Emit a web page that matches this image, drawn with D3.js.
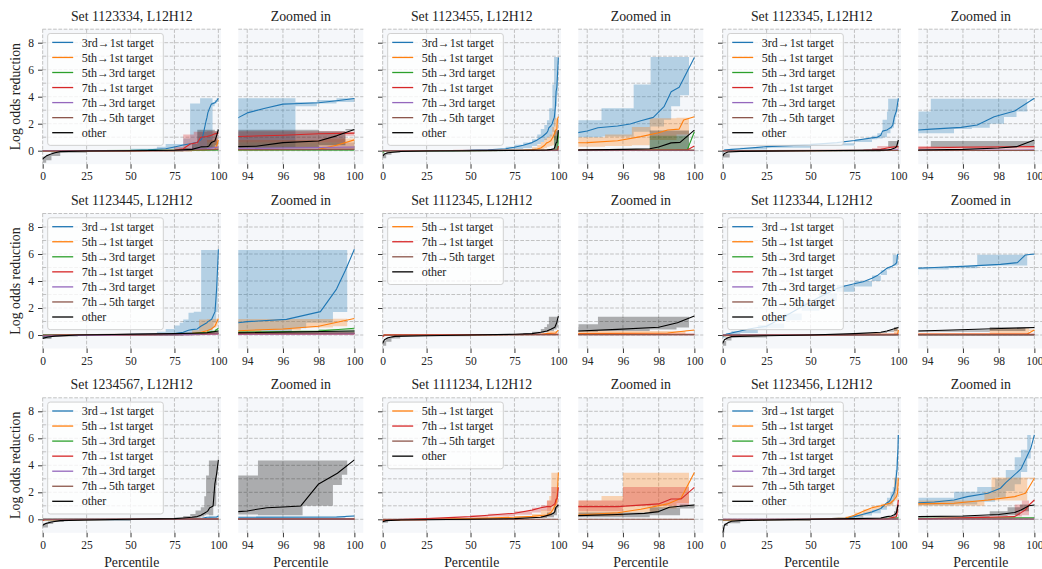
<!DOCTYPE html>
<html>
<head>
<meta charset="utf-8">
<script src="https://cdn.jsdelivr.net/npm/d3@7"></script>
<style>
  body { margin: 0; background: #ffffff; }
  svg text { font-family: "Liberation Serif", "DejaVu Serif", serif; fill: #222; }
</style>
</head>
<body>
<svg id="chart" width="1042" height="569"></svg>
<script>
// ---------------------------------------------------------------------------
// Data: per set, each series is [label, median line [[percentile, value]...],
// step band [[percentile, low, high]...]] (band holds until the next step).
// ---------------------------------------------------------------------------
const seriesLabels = ["3rd→1st target", "5th→1st target", "5th→3rd target",
                      "7th→1st target", "7th→3rd target", "7th→5th target", "other"];
const mainTicks = [0, 25, 50, 75, 100];
const zoomTicks = [94, 96, 98, 100];
const yTickValues = [0, 2, 4, 6, 8];
const layerName = "L12H12";

const set1123334 = [
  ["3rd→1st target",
    [[0,0],[25,0],[50,0.02],[60,0.06],[70,0.15],[75,0.28],[80,0.42],[84,0.52],[88,0.62],[90,0.8],[91,1.0],[92,1.6],[93,2.2],[93.5,2.45],[94,2.8],[95,3.15],[96,3.45],[97,3.5],[98,3.55],[99,3.7],[100,3.87]],
    [[0,-0.05,0.05],[50,-0.02,0.15],[65,0,0.3],[70,0.05,0.5],[80,0.1,0.9],[83.9,0.15,3.5],[89.6,0.25,3.88],[96.7,3.3,3.6],[97.9,3.5,3.75],[99,3.6,3.88],[100,3.6,3.88]]],
  ["5th→1st target",
    [[0,-0.02],[50,0],[90,0.05],[98,0.1],[99,0.4],[100,0.8]],
    [[0,-0.05,0.05],[85,0,0.2],[93.5,0.3,0.8],[98.2,0.1,0.9],[100,0.1,0.9]]],
  ["5th→3rd target",
    [[0,0],[100,0.05]],
    [[0,-0.03,0.05],[100,-0.03,0.05]]],
  ["7th→1st target",
    [[0,0],[75,0.02],[78,0.1],[80,0.15],[84,0.5],[88,0.6],[90,1.0],[93.5,1.05],[96,1.15],[98,1.25],[100,1.3]],
    [[0,-0.05,0.05],[75,0,0.3],[80,0.05,1.2],[86,0.3,1.4],[93.5,0.6,1.45],[99.5,1.1,1.4],[100,1.1,1.4]]],
  ["7th→3rd target",
    [[0,0],[80,0.02],[85,0.1],[93.5,0.15],[100,0.27]],
    [[0,-0.03,0.03],[85,0.05,0.2],[93.5,0.1,0.3],[100,0.1,0.3]]],
  ["7th→5th target",
    [[0,-0.02],[50,0],[85,0.05],[100,0.1]],
    [[0,-0.05,0.05],[85,0,0.3],[93.5,0.05,0.6],[100,0.05,0.6]]],
  ["other",
    [[0,-0.62],[1,-0.5],[2,-0.4],[4,-0.28],[7,-0.15],[10,-0.07],[25,-0.02],[50,0],[75,0.03],[85,0.1],[90,0.28],[93.5,0.3],[94.5,0.33],[96,0.6],[98,0.72],[99,1.1],[100,1.57]],
    [[0,-0.9,-0.45],[2,-0.7,-0.3],[5,-0.4,-0.1],[10,-0.15,0],[25,-0.05,0.02],[80,0,0.2],[85,0.05,0.5],[88,0.1,1.55],[93.5,0.2,1.55],[98,0.4,1.45],[99.5,1.5,1.6],[100,1.5,1.6]]]
];

const set1123455 = [
  ["3rd→1st target",
    [[0,0],[40,0],[50,0.03],[60,0.07],[70,0.15],[75,0.25],[80,0.4],[85,0.6],[88,0.8],[91,1.05],[93.45,1.33],[94,1.46],[94.6,1.7],[95.7,1.83],[96.4,1.98],[97,2.22],[97.7,2.47],[98.3,3.26],[98.7,4.37],[99.15,4.7],[100,6.9]],
    [[0,-0.03,0.03],[50,0,0.1],[70,0.05,0.3],[75,0.1,0.45],[80,0.2,0.6],[85,0.35,0.85],[88,0.5,1.2],[90,0.65,1.6],[92,0.8,1.9],[93.5,1.0,2.25],[94.8,1.05,3.15],[96.6,1.4,4.9],[97.55,1.8,6.95],[98.3,2.3,6.95],[98.7,3.3,6.95],[99.2,4.1,6.95],[99.7,6.9,6.9],[100,6.9,6.9]]],
  ["5th→1st target",
    [[0,0],[80,0.02],[85,0.06],[88,0.12],[90,0.2],[92,0.38],[93.45,0.59],[94,0.6],[95.7,0.74],[97,1.04],[98,1.33],[98.5,1.53],[99.15,1.6],[99.4,2.27],[100,2.52]],
    [[0,-0.03,0.03],[80,0,0.1],[85,0.02,0.25],[88,0.05,0.45],[90,0.1,0.65],[92,0.2,0.9],[93.5,0.3,1.0],[95,0.35,1.2],[96.5,0.4,1.75],[97.5,0.8,2.4],[99,1.2,2.45],[99.7,2.5,2.5],[100,2.5,2.5]]],
  ["5th→3rd target",
    [[0,-0.15],[1,-0.02],[50,0],[99.6,0.05],[100,1.4]],
    [[0,-0.2,0],[1,-0.03,0.03],[97.5,0,1.1],[99.7,0.05,0.1],[100,0.05,0.1]]],
  ["7th→1st target",
    [[0,0],[99.6,0.05],[100,0.35]],
    [[0,-0.03,0.03],[99,0,0.1],[100,0,0.1]]],
  ["7th→3rd target",
    [[0,0],[100,0.02]],
    [[0,-0.02,0.02],[100,-0.02,0.02]]],
  ["7th→5th target",
    [[0,0],[100,0.03]],
    [[0,-0.02,0.03],[100,-0.02,0.03]]],
  ["other",
    [[0,-0.4],[1,-0.25],[3,-0.15],[10,-0.06],[25,-0.02],[50,0],[75,0.02],[93.45,0.05],[96,0.1],[97.5,0.15],[98,0.28],[98.7,0.58],[99.2,0.62],[100,1.52]],
    [[0,-0.55,-0.2],[2,-0.3,-0.1],[5,-0.15,0],[10,-0.05,0.02],[50,0,0.03],[90,0,0.1],[97.5,0.05,1.5],[99.7,1.5,1.5],[100,1.5,1.5]]]
];

const set1123345 = [
  ["3rd→1st target",
    [[0,-0.08],[1,0.05],[5,0.1],[10,0.15],[25,0.3],[50,0.45],[65,0.6],[75,0.75],[85,0.95],[88,1.0],[90,1.15],[91,1.45],[93.5,1.53],[94,1.58],[95.9,1.73],[96.8,1.9],[97.75,2.52],[98.9,2.94],[100,3.88]],
    [[0,-0.15,0],[1,0,0.1],[10,0.08,0.22],[25,0.22,0.38],[50,0.38,0.55],[75,0.65,0.85],[85,0.85,1.1],[88,0.9,1.3],[91,1.0,2.3],[93.5,1.3,2.9],[94.2,1.3,3.85],[95.5,1.6,3.85],[96.5,1.7,3.85],[97.5,2.0,3.85],[98.3,2.5,3.85],[99,2.9,3.85],[99.6,3.8,3.85],[100,3.8,3.85]]],
  ["5th→1st target",
    [[0,0],[100,0.03]],
    [[0,-0.02,0.03],[100,-0.02,0.03]]],
  ["5th→3rd target",
    [[0,0],[100,0.02]],
    [[0,-0.02,0.02],[100,-0.02,0.02]]],
  ["7th→1st target",
    [[0,0],[80,0.02],[85,0.05],[90,0.1],[93.5,0.2],[96,0.25],[100,0.3]],
    [[0,-0.03,0.03],[80,0,0.1],[85,0.02,0.2],[88,0.05,0.35],[93.5,0.15,0.35],[100,0.15,0.35]]],
  ["7th→3rd target",
    [[0,0],[90,0.03],[100,0.06]],
    [[0,-0.02,0.03],[100,-0.02,0.03]]],
  ["7th→5th target",
    [[0,0],[100,0.02]],
    [[0,-0.02,0.02],[100,-0.02,0.02]]],
  ["other",
    [[0,-0.4],[1,-0.2],[3,-0.1],[10,-0.05],[50,0],[90,0.04],[93.5,0.05],[96,0.1],[98,0.2],[99,0.3],[100,0.8]],
    [[0,-0.5,-0.2],[4,-0.1,0],[10,-0.05,0.02],[90,0,0.08],[94.2,0.3,0.72],[100,0.3,0.72]]]
];

const set1123445 = [
  ["3rd→1st target",
    [[0,-0.12],[5,-0.05],[25,0],[50,0.05],[75,0.1],[80,0.2],[83,0.35],[85,0.4],[88,0.45],[90,0.65],[92,0.8],[93.5,0.91],[94,0.99],[96.2,1.16],[98.1,1.73],[99,3.4],[99.5,4.8],[100,6.35]],
    [[0,-0.2,-0.05],[5,-0.08,0.02],[25,-0.02,0.05],[50,0,0.12],[65,0.02,0.25],[70,0.05,0.45],[75,0.08,0.7],[78,0.1,0.9],[80,0.12,1.15],[83,0.15,1.65],[86,0.2,1.72],[90.2,0.3,6.3],[96.5,0.5,6.3],[97.3,0.9,6.3],[98.8,1.7,6.3],[99.6,6.3,6.3],[100,6.3,6.3]]],
  ["5th→1st target",
    [[0,-0.05],[50,0],[80,0.05],[85,0.1],[90,0.2],[93.5,0.32],[96,0.45],[98,0.65],[100,1.22]],
    [[0,-0.08,0],[50,-0.02,0.05],[80,0,0.15],[85,0.05,0.35],[89,0.1,1.15],[93.5,0.2,1.18],[94.8,0.35,1.18],[97,0.55,1.18],[98.8,0.65,1.2],[99.6,1.2,1.2],[100,1.2,1.2]]],
  ["5th→3rd target",
    [[0,0],[80,0.05],[93.5,0.2],[98,0.3],[100,0.5]],
    [[0,-0.03,0.03],[80,0.02,0.12],[93.5,0.15,0.3],[98,0.2,0.45],[100,0.2,0.45]]],
  ["7th→1st target",
    [[0,-0.05],[10,0],[90,0.05],[100,0.1]],
    [[0,-0.08,0],[10,-0.02,0.03],[90,0,0.12],[100,0,0.12]]],
  ["7th→3rd target",
    [[0,-0.05],[50,0],[90,0.05],[93.5,0.07],[100,0.1]],
    [[0,-0.05,0.03],[85,0,0.1],[93.5,0,0.2],[100,0,0.2]]],
  ["7th→5th target",
    [[0,0],[90,0.1],[93.5,0.12],[100,0.15]],
    [[0,-0.02,0.03],[90,0.05,0.15],[100,0.05,0.15]]],
  ["other",
    [[0,-0.25],[3,-0.15],[7,-0.08],[20,0],[50,0.05],[75,0.1],[90,0.15],[93.5,0.17],[100,0.3]],
    [[0,-0.3,-0.1],[5,-0.12,0],[20,-0.02,0.05],[80,0.05,0.15],[93.5,0.1,0.25],[100,0.1,0.25]]]
];

const set1112345 = [
  ["5th→1st target",
    [[0,-0.08],[1,0],[50,0.02],[90,0.05],[93.5,0.1],[98.5,0.15],[100,0.37]],
    [[0,-0.1,0],[1,-0.02,0.03],[85,0,0.1],[93.5,0.05,0.3],[99.5,0.3,0.35],[100,0.3,0.35]]],
  ["7th→1st target",
    [[0,-0.12],[1,0],[100,0.05]],
    [[0,-0.15,-0.05],[1,-0.02,0.02],[100,-0.02,0.02]]],
  ["7th→5th target",
    [[0,-0.02],[100,0.03]],
    [[0,-0.03,0.02],[100,-0.03,0.02]]],
  ["other",
    [[0,-0.62],[1,-0.35],[3,-0.2],[7,-0.1],[25,-0.05],[50,0],[75,0.05],[85,0.1],[90,0.2],[93.5,0.3],[95.7,0.42],[98,0.57],[99.05,0.91],[100,1.4]],
    [[0,-0.8,-0.4],[2,-0.5,-0.2],[5,-0.25,-0.05],[10,-0.1,0],[50,-0.02,0.03],[80,0,0.15],[85,0.05,0.25],[90,0.15,0.45],[92,0.2,0.6],[93.5,0.25,0.8],[94.6,0.3,1.35],[97.5,0.4,1.35],[99,0.55,1.35],[99.7,1.4,1.4],[100,1.4,1.4]]]
];

const set1123344 = [
  ["3rd→1st target",
    [[0,-0.12],[2,0.05],[5,0.15],[10,0.3],[15,0.45],[20,0.55],[25,0.65],[35,1.35],[45,2.1],[55,2.8],[65,3.45],[70,3.65],[75,3.8],[80,3.95],[85,4.2],[88,4.4],[90,4.6],[93.5,4.94],[94.4,5.0],[96.25,5.1],[98.1,5.23],[99.05,5.36],[99.5,5.93],[100,6.0]],
    [[0,-0.2,0],[2,0,0.15],[5,0.05,0.3],[10,0.15,0.45],[20,0.4,0.75],[25,0.5,0.85],[35,1.1,1.6],[45,1.8,2.4],[55,2.5,3.1],[65,3.2,3.7],[75,3.6,4.0],[85,4.0,4.4],[90,4.45,4.8],[93.5,4.85,5.02],[95.2,4.95,5.12],[96.8,5.15,5.95],[99.6,5.95,6.0],[100,5.95,6.0]]],
  ["5th→1st target",
    [[0,-0.05],[50,0],[99.6,0.07],[100,0.37]],
    [[0,-0.08,0],[50,-0.02,0.03],[97.5,0,0.5],[99.7,0.3,0.4],[100,0.3,0.4]]],
  ["5th→3rd target",
    [[0,0],[100,0.02]],
    [[0,-0.02,0.02],[100,-0.02,0.02]]],
  ["7th→1st target",
    [[0,-0.03],[100,0.05]],
    [[0,-0.05,0.03],[100,-0.05,0.03]]],
  ["7th→3rd target",
    [[0,0],[100,0.02]],
    [[0,-0.02,0.02],[100,-0.02,0.02]]],
  ["7th→5th target",
    [[0,-0.02],[100,0.03]],
    [[0,-0.03,0.03],[100,-0.03,0.03]]],
  ["other",
    [[0,-0.62],[1,-0.35],[3,-0.2],[5,-0.12],[25,-0.05],[50,0],[75,0.1],[90,0.2],[93.5,0.3],[100,0.55]],
    [[0,-0.8,-0.45],[2,-0.4,-0.15],[5,-0.18,-0.05],[25,-0.08,0],[50,-0.02,0.03],[75,0.05,0.15],[90,0.15,0.25],[93.5,0.25,0.35],[97.5,0.3,0.6],[99.5,0.5,0.6],[100,0.5,0.6]]]
];

const set1234567 = [
  ["3rd→1st target",
    [[0,-0.05],[50,0],[90,0.05],[93.5,0.15],[99,0.17],[100,0.25]],
    [[0,-0.08,0],[50,-0.02,0.03],[90,0.03,0.1],[94.5,0.1,0.22],[99.5,0.2,0.28],[100,0.2,0.28]]],
  ["5th→1st target",
    [[0,-0.05],[100,0.05]],
    [[0,-0.06,0.02],[100,-0.06,0.02]]],
  ["5th→3rd target",
    [[0,0],[100,0.02]],
    [[0,-0.02,0.02],[100,-0.02,0.02]]],
  ["7th→1st target",
    [[0,-0.1],[1,-0.02],[100,0.02]],
    [[0,-0.12,-0.03],[1,-0.03,0.02],[100,-0.03,0.02]]],
  ["7th→3rd target",
    [[0,0],[100,0.01]],
    [[0,-0.02,0.02],[100,-0.02,0.02]]],
  ["7th→5th target",
    [[0,0],[100,0.01]],
    [[0,-0.02,0.02],[100,-0.02,0.02]]],
  ["other",
    [[0,-0.44],[2,-0.3],[5,-0.2],[10,-0.1],[25,-0.05],[50,0],[75,0.05],[80,0.1],[85,0.15],[88,0.2],[90,0.3],[92,0.45],[93.5,0.57],[94,0.62],[95.1,0.86],[96,0.91],[97,0.99],[98,2.62],[99.05,3.41],[100,4.4]],
    [[0,-0.6,-0.3],[3,-0.35,-0.15],[6,-0.2,-0.05],[12,-0.1,0],[50,-0.02,0.03],[75,0.02,0.12],[80,0.05,0.25],[84,0.08,0.4],[87,0.12,0.65],[90,0.2,0.9],[92,0.3,1.7],[93,0.35,3.25],[94.6,0.3,4.35],[97.1,1.0,4.35],[98.8,2.55,4.35],[99.3,3.3,4.35],[99.6,4.4,4.4],[100,4.4,4.4]]]
];

const set1111234 = [
  ["5th→1st target",
    [[0,-0.05],[25,0],[50,0.05],[75,0.15],[85,0.22],[90,0.28],[93.45,0.32],[95.7,0.49],[97,0.74],[98.5,1.14],[99.25,1.56],[100,3.46]],
    [[0,-0.1,0],[25,-0.02,0.05],[50,0.02,0.1],[75,0.08,0.25],[85,0.12,0.4],[90,0.15,0.7],[93.5,0.25,1.4],[94.8,0.25,1.72],[96,0.5,3.45],[98,0.8,3.45],[99,1.2,3.45],[99.7,3.45,3.45],[100,3.45,3.45]]],
  ["7th→1st target",
    [[0,-0.05],[25,0.05],[50,0.2],[60,0.3],[75,0.45],[85,0.68],[90,0.85],[93.45,0.94],[95.7,0.94],[98,1.14],[98.7,1.5],[99.25,1.5],[100,2.37]],
    [[0,-0.1,0],[25,0,0.1],[50,0.12,0.3],[60,0.2,0.42],[75,0.33,0.6],[85,0.5,0.85],[90,0.65,1.05],[93.5,0.6,1.4],[96,1.0,2.4],[99.7,2.4,2.4],[100,2.4,2.4]]],
  ["7th→5th target",
    [[0,0],[100,0]],
    [[0,-0.02,0.02],[100,-0.02,0.02]]],
  ["other",
    [[0,-0.17],[2,-0.1],[10,-0.05],[50,0],[75,0.05],[90,0.15],[93.45,0.27],[95.7,0.35],[97.2,0.44],[98,0.57],[98.6,0.89],[100,1.06]],
    [[0,-0.25,-0.1],[3,-0.12,0],[10,-0.07,0.02],[50,-0.02,0.03],[90,0.1,0.25],[93.5,0.15,0.5],[97.5,0.3,0.9],[99.2,0.8,1.1],[100,0.8,1.1]]]
];

const set1123456 = [
  ["3rd→1st target",
    [[0,-0.05],[50,0],[70,0.1],[75,0.2],[80,0.38],[85,0.55],[90,0.8],[93.5,1.23],[94.4,1.28],[95.5,1.43],[96.25,1.68],[97.4,1.93],[98.1,2.3],[98.4,2.72],[99.25,3.73],[99.8,5.26],[100,6.25]],
    [[0,-0.08,0],[50,-0.02,0.03],[70,0.05,0.15],[75,0.12,0.3],[80,0.28,0.5],[85,0.45,0.7],[90,0.7,1.0],[93.5,1.05,1.6],[95.5,1.1,2.05],[96.8,1.3,2.4],[97.8,1.6,3.0],[98.4,2.1,3.65],[98.9,2.6,4.6],[99.25,3.5,5.15],[99.6,4.5,6.25],[99.8,6.25,6.25],[100,6.25,6.25]]],
  ["5th→1st target",
    [[0,-0.05],[50,0],[70,0.1],[75,0.3],[80,0.6],[85,0.85],[90,1.0],[93.5,1.14],[95.5,1.19],[97.4,1.43],[98.9,1.68],[99.5,1.93],[100,3.04]],
    [[0,-0.08,0],[50,-0.02,0.05],[70,0.05,0.2],[75,0.2,0.5],[80,0.45,0.75],[85,0.7,1.0],[90,0.9,1.15],[93.5,1.0,1.4],[97.2,1.35,2.0],[97.6,1.4,3.1],[99.6,3.0,3.1],[100,3.0,3.1]]],
  ["5th→3rd target",
    [[0,-0.03],[50,0],[90,0.05],[93.5,0.08],[100,0.12]],
    [[0,-0.05,0],[50,-0.02,0.03],[90,0.02,0.1],[100,0.02,0.1]]],
  ["7th→1st target",
    [[0,-0.03],[93.5,0.03],[98.9,0.2],[99.5,0.7],[99.7,1.06],[100,1.43]],
    [[0,-0.05,0.03],[93.5,0,0.08],[98.9,0.2,1.1],[99.3,0.3,1.4],[99.7,1.4,1.4],[100,1.4,1.4]]],
  ["7th→3rd target",
    [[0,0],[100,0.02]],
    [[0,-0.02,0.02],[100,-0.02,0.02]]],
  ["7th→5th target",
    [[0,0],[100,0.02]],
    [[0,-0.02,0.02],[100,-0.02,0.02]]],
  ["other",
    [[0,-1.04],[1,-0.42],[3,-0.25],[5,-0.15],[10,-0.1],[25,-0.05],[50,0],[75,0.05],[90,0.1],[93.5,0.2],[96,0.25],[98,0.35],[98.9,0.5],[99.25,0.69],[99.7,1.0],[100,1.06]],
    [[0,-1.2,-0.6],[1,-0.5,-0.3],[3,-0.3,-0.15],[10,-0.12,-0.05],[50,-0.02,0.03],[90,0.05,0.15],[93.5,0.15,0.25],[97.5,0.25,0.6],[98.5,0.3,0.9],[99.2,0.6,1.1],[99.7,1.06,1.06],[100,1.06,1.06]]]
];

// Grid of sets, row by row.
const setIds = ["1123334", "1123455", "1123345",
                "1123445", "1112345", "1123344",
                "1234567", "1111234", "1123456"];
const setSeries = [set1123334, set1123455, set1123345,
                   set1123445, set1112345, set1123344,
                   set1234567, set1111234, set1123456];

// ---------------------------------------------------------------------------
// Drawing
// ---------------------------------------------------------------------------
const colour = d3.scaleOrdinal()
  .domain(seriesLabels)
  .range(["#1f77b4", "#ff7f0e", "#2ca02c", "#d62728", "#9467bd", "#8c564b", "#000000"]);

const svg = d3.select("#chart");
const defs = svg.append("defs");

const rowTop = [29.2, 213.5, 397.8];
const plotH = 135;
const groupLeft = [42.5, 382.5, 722.5];
const mainW = 178.5, zoomOffset = 195.8, zoomW = 125;
const gridColour = "#b4b4b4";
let clipId = 0;

function drawPanel(x, y, series, ticks, opt) {
  const [x0, x1] = x.range();
  const [yb, yt] = y.range();
  const g = svg.append("g");

  const id = "clip" + (clipId++);
  defs.append("clipPath").attr("id", id)
    .append("rect").attr("x", x0).attr("y", yt).attr("width", x1 - x0).attr("height", yb - yt);

  g.append("rect").attr("x", x0).attr("y", yt).attr("width", x1 - x0).attr("height", yb - yt)
    .attr("fill", "#f5f7fa");

  // dashed grid: every integer on y, major ticks on x
  g.append("g").selectAll("line").data(d3.range(0, 10)).join("line")
    .attr("x1", x0).attr("x2", x1).attr("y1", d => y(d)).attr("y2", d => y(d))
    .attr("stroke", gridColour).attr("stroke-width", 0.8).attr("stroke-dasharray", "3.7,1.6");
  g.append("g").selectAll("line").data(ticks).join("line")
    .attr("x1", d => x(d)).attr("x2", d => x(d)).attr("y1", yt).attr("y2", yb)
    .attr("stroke", gridColour).attr("stroke-width", 0.8).attr("stroke-dasharray", "3.7,1.6");

  const plot = g.append("g").attr("clip-path", `url(#${id})`);
  const area = d3.area().curve(d3.curveStepAfter)
    .x(d => x(d[0])).y0(d => y(d[1])).y1(d => y(d[2]));
  const line = d3.line().x(d => x(d[0])).y(d => y(d[1]));

  series.forEach(([label, , band]) => {
    plot.append("path").datum(band).attr("d", area)
      .attr("fill", colour(label)).attr("fill-opacity", 0.3);
  });
  series.forEach(([label, pts]) => {
    plot.append("path").datum(pts).attr("d", line)
      .attr("fill", "none").attr("stroke", colour(label)).attr("stroke-width", 1.1)
      .attr("stroke-linejoin", "round");
  });

  // x axis
  const ax = g.append("g").attr("transform", `translate(0,${yb})`)
    .call(d3.axisBottom(x).tickValues(ticks).tickSize(4.5).tickPadding(3.5).tickFormat(d3.format("d")));
  ax.select(".domain").remove();
  ax.selectAll(".tick line").attr("stroke", "#222").attr("stroke-width", 0.9);
  ax.selectAll(".tick text").attr("font-size", 11.5).attr("font-family", "Liberation Serif").attr("fill", "#222");

  // y axis (main panels only)
  if (opt.yTicks) {
    const ay = g.append("g").attr("transform", `translate(${x0},0)`)
      .call(d3.axisLeft(y).tickValues(yTickValues).tickSize(4.5).tickPadding(4)
        .tickFormat(opt.yLabels ? d3.format("d") : () => ""));
    ay.select(".domain").remove();
    ay.selectAll(".tick line").attr("stroke", "#222").attr("stroke-width", 0.9);
    ay.selectAll(".tick text").attr("font-size", 11.5).attr("font-family", "Liberation Serif").attr("fill", "#222");
  }

  // title
  g.append("text").attr("x", (x0 + x1) / 2).attr("y", yt - 8.7)
    .attr("text-anchor", "middle").attr("font-size", 13.8).text(opt.title);

  if (opt.xLabel) {
    g.append("text").attr("x", (x0 + x1) / 2).attr("y", yb + 34)
      .attr("text-anchor", "middle").attr("font-size", 13.8).text("Percentile");
  }

  if (opt.legend) {
    const lg = g.append("g").attr("transform", `translate(${x0 + 5.2},${yt + 4.3})`);
    const n = series.length;
    lg.append("rect").attr("width", 115.6).attr("height", n * 15.05 + 6.5)
      .attr("rx", 2.5).attr("fill", "#ffffff").attr("fill-opacity", 0.8)
      .attr("stroke", "#cccccc").attr("stroke-width", 0.9);
    series.forEach(([label], i) => {
      const cy = 8.9 + i * 15.05;
      lg.append("line").attr("x1", 4.5).attr("x2", 25.5).attr("y1", cy).attr("y2", cy)
        .attr("stroke", colour(label)).attr("stroke-width", 1.3);
      lg.append("text").attr("x", 34).attr("y", cy).attr("dy", "0.35em")
        .attr("font-size", 12).text(label);
    });
  }
}

setIds.forEach((id, i) => {
  const r = Math.floor(i / 3), c = i % 3;
  const y = d3.scaleLinear().domain([-1, 9]).range([rowTop[r] + plotH, rowTop[r]]);
  const left = groupLeft[c];
  const xMain = d3.scaleLinear().domain([-0.1, 101.5]).range([left, left + mainW]);
  const xZoom = d3.scaleLinear().domain([93.5, 100.5]).range([left + zoomOffset, left + zoomOffset + zoomW]);

  drawPanel(xMain, y, setSeries[i], mainTicks,
    { title: `Set ${id}, ${layerName}`, legend: true, yTicks: true, yLabels: c === 0, xLabel: r === 2 });
  drawPanel(xZoom, y, setSeries[i], zoomTicks,
    { title: "Zoomed in", legend: false, yTicks: false, yLabels: false, xLabel: r === 2 });

  if (c === 0) {
    const cy = rowTop[r] + plotH / 2;
    svg.append("text").attr("transform", `translate(15,${cy}) rotate(-90)`)
      .attr("text-anchor", "middle").attr("dy", "0.35em").attr("font-size", 13.8)
      .text("Log odds reduction");
  }
});
</script>
</body>
</html>
